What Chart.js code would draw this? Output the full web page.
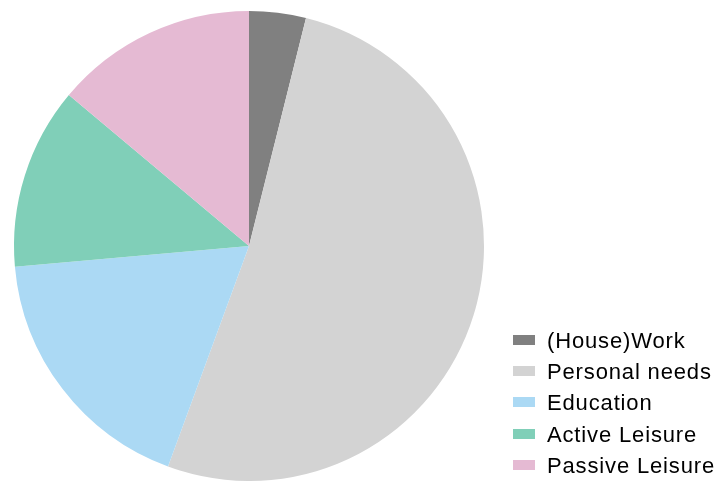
<!DOCTYPE html>
<html>
<head>
<meta charset="utf-8">
<script src="https://cdn.jsdelivr.net/npm/chart.js@4/dist/chart.umd.min.js"></script>
<style>
  html, body { margin: 0; padding: 0; background: #fff; }
  #wrap { position: relative; width: 715px; height: 481px; overflow: hidden; }
  #c { position: absolute; left: 0; top: 0; }
  #legend { position: absolute; left: 513px; top: 328px; font-family: "Liberation Sans", Arial, sans-serif; font-size: 22px; letter-spacing: 0.85px; color: #000; }
  .row { position: relative; height: 31.2px; white-space: nowrap; }
  .box { position: absolute; left: 0; top: 7px; width: 22px; height: 10px; }
  .lbl { position: absolute; left: 34px; top: 0; line-height: 26px; }
</style>
</head>
<body>
<div id="wrap">
  <canvas id="c" width="715" height="481"></canvas>
  <div id="legend"></div>
</div>
<script>
const categories = ["(House)Work", "Personal needs", "Education", "Active Leisure", "Passive Leisure"];
const shares = [3.9, 51.7, 18.0, 12.5, 13.9];
const colors = ["#808080", "#d3d3d3", "#abd9f4", "#80cfb8", "#e5bad3"];

new Chart(document.getElementById("c"), {
  type: "pie",
  data: {
    labels: categories,
    datasets: [{ data: shares, backgroundColor: colors, borderWidth: 0 }]
  },
  options: {
    responsive: false,
    animation: false,
    layout: { padding: { left: 14, top: 11, right: 231, bottom: 0 } },
    plugins: { legend: { display: false }, tooltip: { enabled: false } }
  }
});

const legend = document.getElementById("legend");
categories.forEach((name, i) => {
  const row = document.createElement("div");
  row.className = "row";
  const box = document.createElement("div");
  box.className = "box";
  box.style.background = colors[i];
  const lbl = document.createElement("div");
  lbl.className = "lbl";
  lbl.textContent = name;
  row.appendChild(box);
  row.appendChild(lbl);
  legend.appendChild(row);
});
</script>
</body>
</html>
